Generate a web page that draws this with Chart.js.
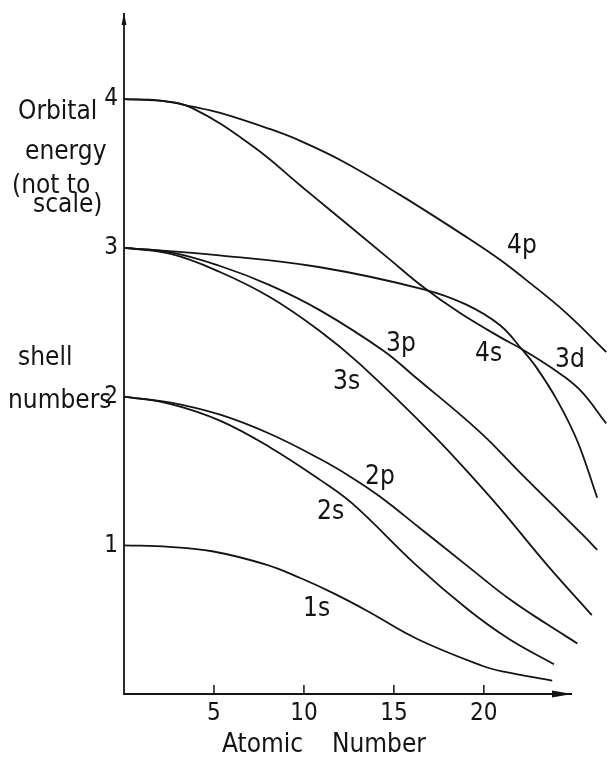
<!DOCTYPE html>
<html>
<head>
<meta charset="utf-8">
<script src="https://cdn.jsdelivr.net/npm/chart.js@4"></script>
<style>
  html, body { margin: 0; padding: 0; background: #fff; }
</style>
</head>
<body>
<canvas id="myChart" width="608" height="757"></canvas>
<script>
// tick values on both axes
const atomicNumberTicks = [5, 10, 15, 20];
const shellTicks = [1, 2, 3, 4];

// orbital energy curves, [atomic number, energy]
const orbital1s = [[0, 1.0], [2.5, 0.99], [4.9, 0.96], [7.9, 0.87], [9.8, 0.78], [11.6, 0.68], [13.5, 0.56], [16.3, 0.37], [19.9, 0.19], [21.1, 0.15], [23.8, 0.09]];
const orbital2s = [[0, 2.0], [2.6, 1.95], [5.3, 1.84], [8.1, 1.66], [10.9, 1.44], [12.7, 1.28], [16.3, 0.86], [19.1, 0.57], [21.4, 0.37], [23.9, 0.20]];
const orbital2p = [[0, 2.0], [2.6, 1.96], [5.3, 1.88], [8.1, 1.75], [10.9, 1.58], [12.6, 1.46], [14.2, 1.33], [16.4, 1.12], [19.2, 0.85], [21.4, 0.64], [23.5, 0.47], [25.2, 0.34]];
const orbital3s = [[0, 3.0], [2.6, 2.96], [5.3, 2.84], [8.1, 2.67], [10.9, 2.44], [13.1, 2.22], [17.2, 1.74], [19.8, 1.40], [21.1, 1.22], [23.5, 0.87], [26.0, 0.53]];
const orbital3p = [[0, 3.0], [2.6, 2.97], [5.3, 2.88], [8.1, 2.75], [10.9, 2.58], [14.4, 2.31], [16.1, 2.14], [19.8, 1.76], [22.0, 1.49], [23.5, 1.31], [25.5, 1.07], [26.3, 0.97]];
const orbital3d = [[0, 3.0], [5.3, 2.95], [10.9, 2.87], [16.7, 2.72], [19.0, 2.62], [20.9, 2.48], [22.1, 2.32], [22.9, 2.20], [24.1, 1.97], [25.2, 1.70], [26.3, 1.32]];
const orbital4s = [[0, 4.0], [2.0, 3.99], [3.8, 3.94], [7.2, 3.68], [9.8, 3.42], [11.4, 3.26], [14.6, 2.94], [16.7, 2.73], [18.7, 2.56], [20.9, 2.40], [22.1, 2.32], [23.8, 2.19], [25.3, 2.05], [26.8, 1.82]];
const orbital4p = [[0, 4.0], [2.0, 3.99], [3.8, 3.95], [5.3, 3.91], [8.1, 3.80], [9.8, 3.72], [12.2, 3.58], [15.3, 3.36], [19.2, 3.06], [20.9, 2.92], [22.4, 2.78], [24.6, 2.56], [26.8, 2.30]];

const orbitalNames = ['1s', '2s', '2p', '3s', '3p', '3d', '4s', '4p'];
const orbitalCurves = [orbital1s, orbital2s, orbital2p, orbital3s, orbital3p, orbital3d, orbital4s, orbital4p];

const ink = '#141414';
const narrowFont = '"Liberation Sans Narrow", "DejaVu Sans Condensed", "Roboto Condensed", sans-serif';

// where the hand lettering sits (pixels)
const sideText = [
    ['Orbital', 18, 119],
    ['energy', 25, 159],
    ['(not to', 12, 193],
    ['scale)', 33, 212],
    ['shell', 18, 365],
    ['numbers', 8, 408],
    ['Atomic', 222, 752],
    ['Number', 332, 752],
];
const curveLabelSpots = {
    '1s': [303, 616], '2s': [317, 519], '2p': [365, 484], '3s': [333, 389],
    '3p': [386, 351], '3d': [555, 367], '4s': [475, 361], '4p': [507, 253],
};

const handDrawn = {
    id: 'handDrawn',
    afterDraw(chart) {
        const {ctx, scales: {x, y}} = chart;
        const x0 = x.getPixelForValue(0);
        const y0 = y.getPixelForValue(0);
        const xEnd = x.getPixelForValue(24.9);
        const yEnd = y.getPixelForValue(4.58);
        ctx.save();
        ctx.strokeStyle = ink;
        ctx.fillStyle = ink;
        ctx.lineWidth = 1.8;

        // axes
        ctx.beginPath();
        ctx.moveTo(x0, yEnd);
        ctx.lineTo(x0, y0);
        ctx.lineTo(xEnd, y0);
        ctx.stroke();

        // arrow heads
        ctx.beginPath();
        ctx.moveTo(xEnd, y0);
        ctx.lineTo(xEnd - 20, y0 - 3.5);
        ctx.lineTo(xEnd - 20, y0 + 3.5);
        ctx.closePath();
        ctx.fill();
        ctx.beginPath();
        ctx.moveTo(x0, yEnd);
        ctx.lineTo(x0 - 2.5, yEnd + 12);
        ctx.lineTo(x0 + 2.5, yEnd + 12);
        ctx.closePath();
        ctx.fill();

        // tick marks point up into the plot
        ctx.lineWidth = 1.5;
        ctx.beginPath();
        atomicNumberTicks.forEach(v => {
            const px = x.getPixelForValue(v);
            ctx.moveTo(px, y0);
            ctx.lineTo(px, y0 - 9);
        });
        ctx.stroke();

        ctx.font = '26px ' + narrowFont;
        ctx.textAlign = 'left';
        ctx.textBaseline = 'alphabetic';
        sideText.forEach(([t, px, py]) => ctx.fillText(t, px, py));
        orbitalNames.forEach(name => {
            const [px, py] = curveLabelSpots[name];
            ctx.fillText(name, px, py);
        });
        ctx.restore();
    }
};

const ctx = document.getElementById('myChart');
const chartGraphic = new Chart(ctx, {
    type: 'line',
    data: {
        datasets: orbitalCurves.map((pts, i) => ({
            label: orbitalNames[i],
            data: pts.map(p => ({x: p[0], y: p[1]})),
            borderColor: ink,
            borderWidth: 1.8,
            pointRadius: 0,
            fill: false,
            tension: 0.4,
        }))
    },
    options: {
        responsive: false,
        animation: false,
        layout: {padding: {top: 10, right: 0, left: 0, bottom: 0}},
        plugins: {
            legend: {display: false},
            tooltip: {enabled: false},
        },
        scales: {
            x: {
                type: 'linear',
                min: 0,
                max: 26.9,
                grid: {display: false, drawTicks: false},
                border: {display: false},
                afterBuildTicks: scale => { scale.ticks = atomicNumberTicks.map(v => ({value: v})) },
                afterFit: scale => {
                    scale.height = 63;
                    scale.paddingLeft = 0;
                    scale.paddingRight = 0;
                },
                ticks: {
                    color: ink,
                    padding: 5,
                    maxRotation: 0,
                    font: {family: narrowFont, size: 24},
                },
            },
            y: {
                min: 0,
                max: 4.6,
                grid: {display: false, drawTicks: false},
                border: {display: false},
                afterBuildTicks: scale => { scale.ticks = shellTicks.map(v => ({value: v})) },
                afterFit: scale => {
                    scale.width = 124;
                    scale.paddingTop = 0;
                    scale.paddingBottom = 0;
                },
                ticks: {
                    color: ink,
                    padding: 6,
                    font: {family: narrowFont, size: 24},
                },
            },
        },
    },
    plugins: [handDrawn],
});
</script>
</body>
</html>
